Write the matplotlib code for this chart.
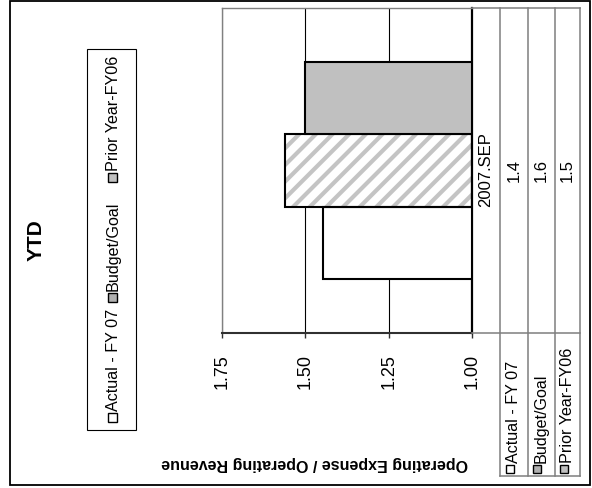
import matplotlib
matplotlib.use('Agg')
import matplotlib.pyplot as plt
from matplotlib.patches import Rectangle

plt.rcParams['font.family'] = ['Liberation Sans', 'DejaVu Sans']
plt.rcParams['hatch.linewidth'] = 3.0

# data
category = '2007.SEP'
series = ['Actual - FY 07', 'Budget/Goal', 'Prior Year-FY06']
values = [1.446, 1.56, 1.50]
base = 1.0
ticks = [1.00, 1.25, 1.50, 1.75]

# styles per series
faces = ['white', 'white', '#c0c0c0']
hatches = [None, '//', None]

W, H = 592, 489
fig = plt.figure(figsize=(W / 100, H / 100), dpi=100)

# main plot area (chart is drawn rotated: value axis runs right-to-left)
ax = fig.add_axes([222 / W, 1 - 334 / H, 250 / W, 325 / H])
bw = 1 / 4.5
offsets = [-bw, 0, bw]
for i, name in enumerate(series):
    if hatches[i]:
        ax.barh(offsets[i], values[i] - base, left=base, height=bw,
                color='white', edgecolor='#c4c4c4', linewidth=0,
                hatch=hatches[i], zorder=2)
        ax.barh(offsets[i], values[i] - base, left=base, height=bw,
                fill=False, edgecolor='black', linewidth=1.5, zorder=3)
    else:
        ax.barh(offsets[i], values[i] - base, left=base, height=bw,
                color=faces[i], edgecolor='black', linewidth=1.5, zorder=3)

ax.set_xlim(1.75, 1.0)
ax.set_ylim(-0.5, 0.5)
ax.set_xticks(ticks)
ax.set_xticklabels(['%.2f' % t for t in ticks], rotation=90, fontsize=13)
ax.set_yticks([])
ax.tick_params(axis='x', direction='out', length=3.6, width=1,
               color='#303030', pad=11)
ax.xaxis.grid(True, color='black', linewidth=0.8)
ax.set_axisbelow(True)
ax.spines['left'].set_color('#808080')
ax.spines['top'].set_color('#808080')
ax.spines['left'].set_linewidth(1)
ax.spines['top'].set_linewidth(1)
ax.spines['right'].set_color('black')
ax.spines['right'].set_linewidth(1.6)
ax.spines['bottom'].set_color('#303030')
ax.spines['bottom'].set_linewidth(1.5)

# overlay in pixel coordinates for frame, legend and data table
bg = fig.add_axes([0, 0, 1, 1], zorder=5)
bg.set_xlim(0, W)
bg.set_ylim(H, 0)
bg.axis('off')

bg.add_patch(Rectangle((10, 2), 580, 484, fill=False, ec='black', lw=1.3))

# title
bg.text(36, 240, 'YTD', rotation=90, fontsize=15, fontweight='bold',
        ha='center', va='center')

# legend box
bg.add_patch(Rectangle((87, 50), 49, 381, fill=False, ec='black', lw=0.8))
leg_y = [418, 298, 178]
for i, name in enumerate(series):
    y = leg_y[i]
    if hatches[i]:
        bg.add_patch(Rectangle((108, y - 4.5), 9, 9, fc='white', ec='#b0b0b0',
                               lw=0, hatch='//////'))
        bg.add_patch(Rectangle((108, y - 4.5), 9, 9, fill=False, ec='black', lw=1))
    else:
        bg.add_patch(Rectangle((108, y - 4.5), 9, 9, fc=faces[i], ec='black', lw=1))
    bg.text(113, y - 7, name, rotation=90, rotation_mode='anchor',
            fontsize=11.6, ha='left', va='center')

# y label (upside down)
bg.text(315, 464, 'Operating Expense / Operating Revenue', rotation=180,
        fontsize=11.5, fontweight='bold', ha='center', va='center')

# data table
grey = '#7f7f7f'
col_x = [472, 500, 527.5, 555, 580]
for x in col_x[1:]:
    bg.plot([x, x], [9, 477], color=grey, lw=1.1)
bg.plot([472, 580], [9, 9], color=grey, lw=1.1)
bg.plot([472, 580], [334, 334], color=grey, lw=1.1)
bg.plot([500, 580], [477, 477], color=grey, lw=1.1)

bg.text((col_x[0] + col_x[1]) / 2, 170, category, rotation=90,
        rotation_mode='anchor', fontsize=12, ha='center', va='center')
for i, name in enumerate(series):
    cx = (col_x[i + 1] + col_x[i + 2]) / 2
    bg.text(cx, 170, '%.1f' % values[i], rotation=90, rotation_mode='anchor',
            fontsize=12, ha='center', va='center')
    if hatches[i]:
        bg.add_patch(Rectangle((cx - 8, 466), 8, 8, fc='white', ec='#b0b0b0',
                               lw=0, hatch='//////'))
        bg.add_patch(Rectangle((cx - 8, 466), 8, 8, fill=False, ec='black', lw=1))
    else:
        bg.add_patch(Rectangle((cx - 8, 466), 8, 8, fc=faces[i], ec='black', lw=1))
    bg.text(cx, 463, name, rotation=90, rotation_mode='anchor',
            fontsize=11.6, ha='left', va='center')

fig.savefig('out.png', dpi=100)
